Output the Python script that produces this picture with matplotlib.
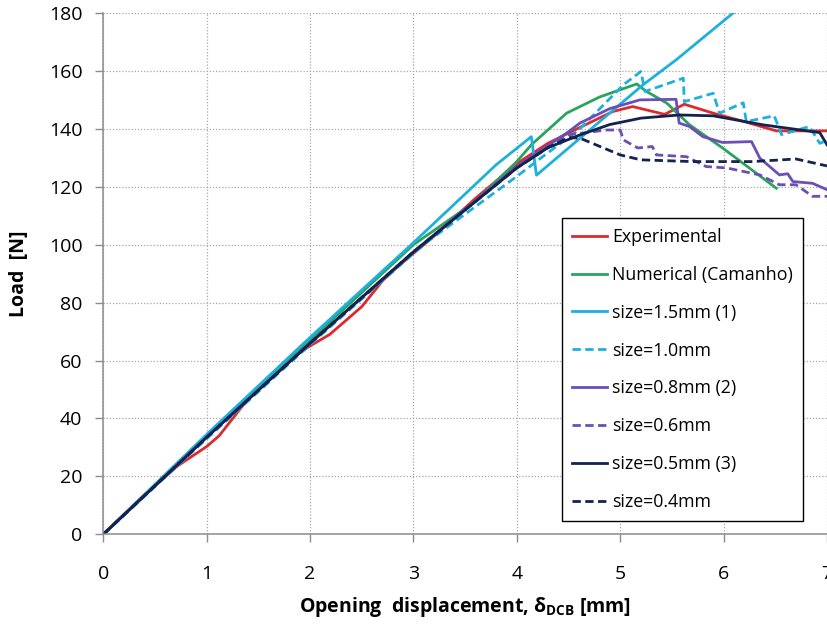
import matplotlib
matplotlib.use("Agg")
import matplotlib.pyplot as plt

plt.rcParams["font.family"] = ["Open Sans", "DejaVu Sans"]
plt.rcParams["mathtext.fontset"] = "custom"
plt.rcParams["mathtext.rm"] = "Open Sans"
plt.rcParams["mathtext.bf"] = "Open Sans:bold"

# --- data ---
exp_x = [0, 0.35, 0.71, 1.0, 1.12, 1.45, 1.81, 1.97, 2.19, 2.5, 2.71, 2.85, 3.2, 3.6,
         4.0, 4.3, 4.61, 4.93, 5.12, 5.43, 5.62, 5.9, 6.2, 6.51, 7.0]
exp_y = [0, 12, 23.4, 30.3, 34, 49, 60.3, 64.4, 69, 78.6, 87.9, 92.5, 103, 116,
         128, 135, 140.5, 146, 147.7, 145, 148.5, 145.4, 142.5, 139.3, 139.3]

num_x = [0, 1, 2, 3, 3.58, 4.0, 4.14, 4.48, 4.8, 5.16, 5.25, 5.45, 5.67, 5.99, 6.51]
num_y = [0, 34, 67, 100, 114.4, 128.7, 134.5, 145.4, 151, 155.5, 153, 148.9, 141.4, 133.4, 119.5]

s15_x = [0, 1, 2, 3, 3.8, 4.14, 4.19, 5.22, 5.54, 6.5]
s15_y = [0, 34.5, 68, 100.7, 127.6, 137.3, 124, 155.2, 163.8, 192]

s10_x = [0, 1, 2, 3, 3.16, 4.0, 4.25, 4.61, 5.03, 5.2, 5.24, 5.61, 5.62, 5.9, 5.96,
         6.19, 6.22, 6.49, 6.56, 6.83, 6.93, 7.0]
s10_y = [0, 33, 65.5, 97, 101.7, 123.6, 130.4, 140, 155.2, 159.8, 152.9, 157.5, 149.4,
         152.3, 145.4, 149, 142.5, 144.5, 138, 140.8, 135, 136]

s08_x = [0, 1, 2, 3, 4, 4.5, 4.61, 4.9, 5.19, 5.54, 5.57, 5.67, 5.8, 5.99, 6.27, 6.35,
         6.54, 6.62, 6.67, 6.86, 7.0]
s08_y = [0, 33.5, 66, 97.5, 127, 139, 142, 147, 150, 150.2, 142, 140.8, 137.3, 135.3,
         135.6, 129.9, 124.1, 124.5, 121.8, 121.2, 119]

s06_x = [0, 1, 2, 3, 4, 4.5, 4.87, 5.0, 5.03, 5.17, 5.31, 5.35, 5.64, 5.83, 6.03, 6.35,
         6.54, 6.7, 6.86, 7.0]
s06_y = [0, 33.5, 66, 97.5, 127, 138, 139.6, 139.6, 136.2, 133.4, 133.9, 131, 130.4, 127,
         126.5, 124.1, 120.7, 120.7, 116.7, 116.7]

s05_x = [0, 1, 2, 3, 4, 4.3, 4.61, 4.9, 5.2, 5.57, 5.9, 6.38, 6.93, 7.0]
s05_y = [0, 33.5, 66, 97.5, 126.5, 133.5, 137.9, 141.5, 143.7, 144.8, 144.5, 141.4, 138.7, 134.5]

s04_x = [0, 1, 2, 3, 4, 4.3, 4.5, 4.61, 5.0, 5.2, 5.7, 6.28, 6.7, 7.0]
s04_y = [0, 33.5, 66, 97.5, 126.5, 133.5, 137, 136.8, 131, 129.3, 128.7, 128.7, 129.6, 127.2]

labels = ["Experimental", "Numerical (Camanho)", "size=1.5mm (1)", "size=1.0mm",
          "size=0.8mm (2)", "size=0.6mm", "size=0.5mm (3)", "size=0.4mm"]

red = "#dc2a2e"
green = "#2aa35c"
cyan = "#1eb0dc"
purple = "#6a4fb4"
navy = "#14224e"
dash = (0, (3, 1.6))

fig = plt.figure(figsize=(8.27, 6.26), dpi=100)
ax = fig.add_axes([0.1249, 0.1465, 0.8751, 0.8327])

series = [
    (exp_x, exp_y, red, "-"),
    (num_x, num_y, green, "-"),
    (s15_x, s15_y, cyan, "-"),
    (s10_x, s10_y, cyan, dash),
    (s08_x, s08_y, purple, "-"),
    (s06_x, s06_y, purple, dash),
    (s05_x, s05_y, navy, "-"),
    (s04_x, s04_y, navy, dash),
]
for (x, y, c, ls), lab in zip(series, labels):
    ax.plot(x, y, color=c, ls=ls, lw=2, label=lab)

ax.set_xlim(0, 7)
ax.set_ylim(0, 180)
ax.set_xticks(range(0, 8))
ax.set_yticks(range(0, 181, 20))
ax.grid(True, color="#a8a8a8", linestyle=(0, (1, 1.5)), linewidth=0.9)
ax.set_axisbelow(True)

for side in ["top", "right"]:
    ax.spines[side].set_visible(False)
for side in ["left", "bottom"]:
    ax.spines[side].set_color("#8c8c8c")
    ax.spines[side].set_linewidth(1.1)

ax.tick_params(axis="both", direction="out", length=6, width=1, color="#8c8c8c",
               labelsize=14)
ax.tick_params(axis="y", pad=9)
ax.tick_params(axis="x", pad=16)

ax.set_xlabel(r"Opening  displacement, δ$_{\mathbf{DCB}}$ [mm]",
              fontsize=14, fontweight="bold", labelpad=9)
ax.set_ylabel("Load  [N]", fontsize=14, fontweight="bold", labelpad=14)

leg = ax.legend(loc="lower left", bbox_to_anchor=(0.634, 0.0255), borderaxespad=0,
                fontsize=12.8, frameon=True, fancybox=False, edgecolor="black",
                framealpha=1, handlelength=2.0, handletextpad=0.25,
                labelspacing=1.12, borderpad=0.55)
leg.get_frame().set_linewidth(1.0)

fig.savefig("out.png", dpi=100)
